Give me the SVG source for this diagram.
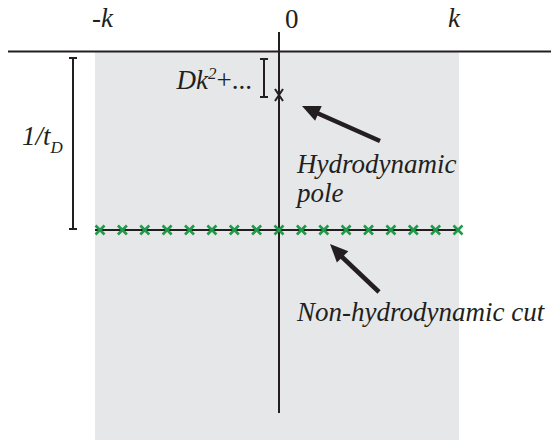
<svg xmlns="http://www.w3.org/2000/svg" width="551" height="440" viewBox="0 0 551 440">
<defs>
<style>
.ax{stroke:#231f20;stroke-width:2;fill:none}
.g{stroke:#1f9a48;stroke-width:2.6;fill:none}
.t{font-family:"Liberation Serif","Times New Roman","DejaVu Serif",serif;font-style:italic;font-size:27px;fill:#231f20}
.arr{stroke:#231f20;stroke-width:4.5;fill:none}
.head{fill:#231f20}
</style>
<g id="gx"><path class="g" d="M-4.5,-4.5 L4.5,4.5 M4.5,-4.5 L-4.5,4.5"/></g>
</defs>
<rect id="region" x="95" y="52" width="364" height="388" fill="#e6e7e8"/>
<g id="axes">
<line class="ax" x1="8" y1="51.5" x2="551" y2="51.5"/>
<line class="ax" x1="279" y1="32" x2="279" y2="413"/>
</g>
<g id="labels">
<text class="t" x="92" y="27">-k</text>
<text class="t" x="285" y="28" style="font-style:normal">0</text>
<text class="t" x="448" y="27">k</text>
</g>
<g id="tD">
<path class="ax" d="M73,58 V229 M69,58 H77 M69,229 H77"/>
<text class="t" x="22" y="145">1/t<tspan font-size="17" dy="8">D</tspan></text>
</g>
<g id="Dk">
<path class="ax" d="M264,59 V97 M260,59 H268 M260,97 H268"/>
<text class="t" x="252" y="89" text-anchor="end">Dk<tspan font-size="17" dy="-10">2</tspan><tspan dy="10" style="font-style:normal">+...</tspan></text>
</g>
<g id="pole">
<path class="ax" d="M275,89 L283,101 M283,89 L275,101"/>
</g>
<g id="cut">
<line class="ax" x1="95" y1="230" x2="459" y2="230"/>
<use href="#gx" x="100" y="230"/><use href="#gx" x="122.4" y="230"/><use href="#gx" x="144.8" y="230"/><use href="#gx" x="167.1" y="230"/><use href="#gx" x="189.5" y="230"/><use href="#gx" x="211.9" y="230"/><use href="#gx" x="234.3" y="230"/><use href="#gx" x="256.6" y="230"/><use href="#gx" x="279" y="230"/><use href="#gx" x="301.4" y="230"/><use href="#gx" x="323.8" y="230"/><use href="#gx" x="346.1" y="230"/><use href="#gx" x="368.5" y="230"/><use href="#gx" x="390.9" y="230"/><use href="#gx" x="413.3" y="230"/><use href="#gx" x="435.6" y="230"/><use href="#gx" x="458" y="230"/>
</g>
<g id="hydro">
<text class="t" x="297" y="173">Hydrodynamic</text>
<text class="t" x="297" y="202">pole</text>
</g>
<g id="nonhydro">
<text class="t" x="297" y="321">Non-hydrodynamic cut</text>
</g>
<g id="connectors">
<line class="arr" x1="380" y1="141" x2="317" y2="113"/>
<polygon class="head" points="302,106 321.7,106.1 315.1,120.7"/>
<line class="arr" x1="379" y1="292" x2="341" y2="256"/>
<polygon class="head" points="330,244 348.3,251.3 336.9,262.5"/>
</g>
</svg>
